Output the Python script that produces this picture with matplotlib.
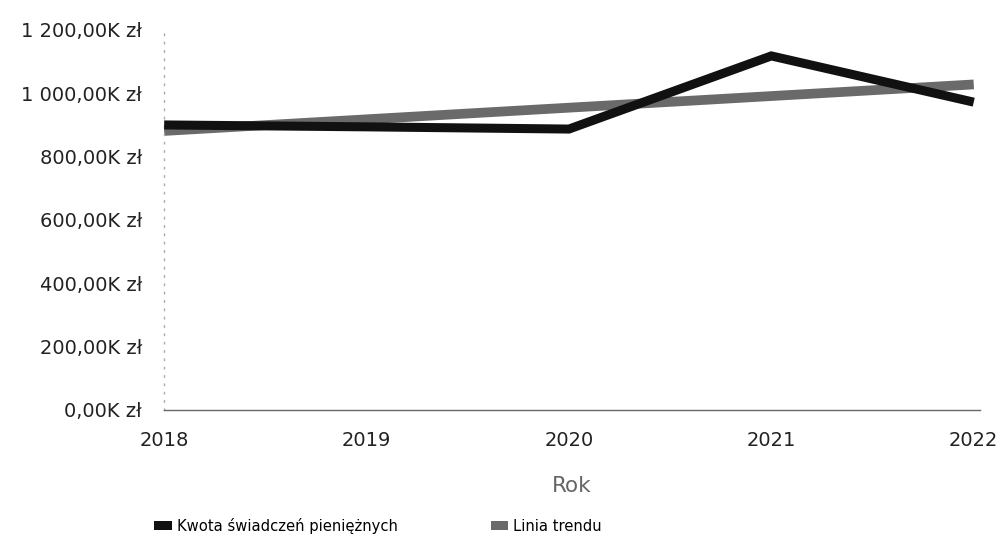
"""Kwota świadczeń pieniężnych by year, with a linear trend line."""

import matplotlib
matplotlib.use("Agg")
import matplotlib.pyplot as plt
from matplotlib.patches import Patch
from matplotlib.ticker import FuncFormatter

years = [2018, 2019, 2020, 2021, 2022]
amounts_k = [900, 894, 887, 1118, 972]

# trend line endpoints
trend_years = [2018, 2022]
trend_k = [881, 1028]

y_ticks = [0, 200, 400, 600, 800, 1000, 1200]

series_label = "Kwota świadczeń pieniężnych"
trend_label = "Linia trendu"


def fmt_pln(v, _pos):
    whole = int(round(v))
    txt = f"{whole:,}".replace(",", " ")
    return f"{txt},00K zł"


def main():
    plt.rcParams["font.family"] = ["DejaVu Sans"]
    fig = plt.figure(figsize=(10.07, 5.45), dpi=100)
    ax = fig.add_axes([0.163, 0.248, 0.810, 0.697])

    ax.plot(trend_years, trend_k, color="#6a6a6a", lw=7, solid_capstyle="butt", zorder=2)
    ax.plot(years, amounts_k, color="#111111", lw=6.5, solid_joinstyle="miter",
            solid_capstyle="butt", zorder=3)

    ax.set_xlim(2018, 2022.03)
    ax.set_ylim(0, 1200)
    ax.set_xticks(years)
    ax.set_yticks(y_ticks)
    ax.yaxis.set_major_formatter(FuncFormatter(fmt_pln))
    ax.tick_params(length=0, labelsize=14, colors="#222222")
    ax.tick_params(axis="y", pad=16)
    ax.tick_params(axis="x", pad=15)

    for side in ("top", "right"):
        ax.spines[side].set_visible(False)
    ax.spines["left"].set_color("#aaaaaa")
    ax.spines["left"].set_linestyle((0, (1, 5)))
    ax.spines["left"].set_linewidth(1)
    ax.spines["bottom"].set_color("#666666")
    ax.spines["bottom"].set_linewidth(1)

    ax.set_xlabel("Rok", fontsize=15.5, color="#666666", labelpad=19)

    handles = [
        Patch(facecolor="#111111", edgecolor="none"),
        Patch(facecolor="#6a6a6a", edgecolor="none"),
    ]
    fig.legend(handles, [series_label, trend_label], loc="center left",
               bbox_to_anchor=(0.14, 0.035), ncol=2, frameon=False,
               fontsize=10.6, handlelength=1.2, handleheight=0.55,
               handletextpad=0.35, columnspacing=6.3)

    fig.savefig("out.png", dpi=100)
    plt.close(fig)


if __name__ == "__main__":
    main()
